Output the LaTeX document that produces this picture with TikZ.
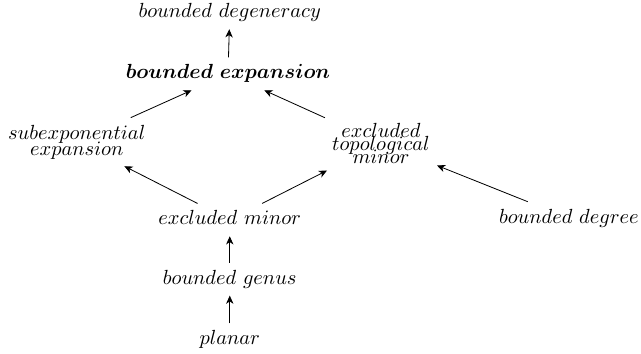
\documentclass[tikz,border=0pt]{standalone}
\usepackage{amsmath}
\usetikzlibrary{arrows.meta}
\begin{document}
\begin{tikzpicture}[cls/.style={text height=7pt,text depth=2pt}, stack/.style={align=center},
  impl/.style={-{Stealth[length=4pt,width=3.6pt,inset=1.2pt]}}]
\useasboundingbox (0,0) rectangle (11.02,-6.08);

\node[cls] (degen) at (3.95,-0.22) {$bounded\ degeneracy$};
\node[cls] (bexp) at (3.92,-1.27) {$\boldsymbol{bounded\ expansion}$};
\node[stack] (subexp) at (1.32,-2.44) {$subexponential$\\[-4.2pt]$expansion$};
\node[stack] (topminor) at (6.55,-2.46) {$excluded$\\[-5.6pt]$topological$\\[-5.6pt]$minor$};
\node[cls] (minor) at (3.95,-3.78) {$excluded\ minor$};
\node[cls] (degree) at (9.78,-3.75) {$bounded\ degree$};
\node[cls] (genus) at (3.95,-4.80) {$bounded\ genus$};
\node[cls] (planar) at (3.95,-5.84) {$planar$};

\draw [impl] (bexp)     -- (degen);
\draw [impl] (subexp)   -- (bexp);
\draw [impl] (topminor) -- (bexp);
\draw [impl] (minor)    -- (subexp);
\draw [impl] (minor)    -- (topminor);
\draw [impl] (degree)   -- (topminor);
\draw [impl] (genus)    -- (minor);
\draw [impl] (planar)   -- (genus);
\end{tikzpicture}
\end{document}
